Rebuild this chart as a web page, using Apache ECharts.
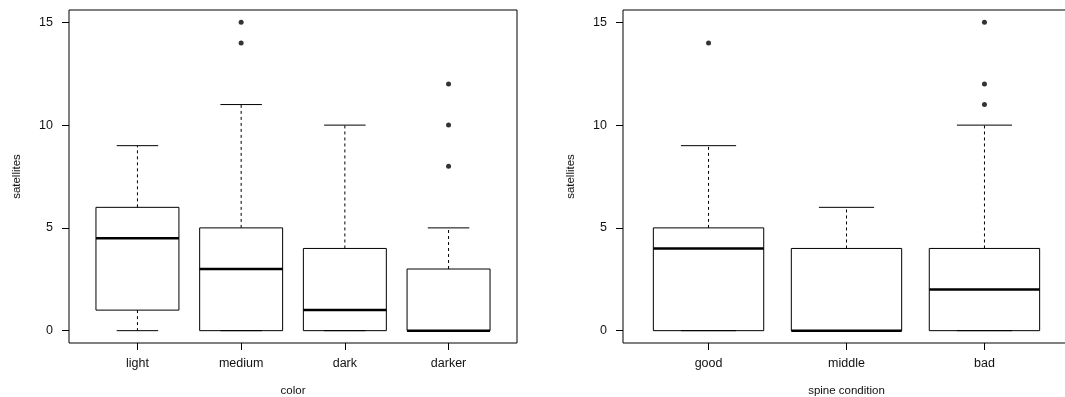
<!DOCTYPE html>
<html>
<head>
<meta charset="utf-8">
<script src="https://cdn.jsdelivr.net/npm/echarts@6/dist/echarts.min.js"></script>
<style>
html,body{margin:0;padding:0;background:#fff;}
#chart{width:1065px;height:397px;}
</style>
</head>
<body>
<div id="chart"></div>
<script>
// ---- data ----
const colorCategories = ['light', 'medium', 'dark', 'darker'];
// [min whisker, Q1, median, Q3, max whisker]
const colorStats = [
  [0, 1, 4.5, 6, 9],
  [0, 0, 3, 5, 11],
  [0, 0, 1, 4, 10],
  [0, 0, 0, 3, 5]
];
const colorOutliers = [[], [14, 15], [], [8, 10, 12]];

const spineCategories = ['good', 'middle', 'bad'];
const spineStats = [
  [0, 0, 4, 5, 9],
  [0, 0, 0, 4, 6],
  [0, 0, 2, 4, 10]
];
const spineOutliers = [[14], [], [11, 12, 15]];

const yTicks = [0, 5, 10, 15];
const yAxisTitle = 'satellites';
const colorTitle = 'color';
const spineTitle = 'spine condition';

// ---- helpers ----
const FONT = "'Liberation Sans', Arial, Helvetica, sans-serif";
const INK = '#111';

function boxData(stats) {
  return stats.map((s, i) => [i + 1].concat(s));
}
function outlierData(outs) {
  const d = [];
  outs.forEach((vals, i) => vals.forEach(v => d.push([i + 1, v])));
  return d;
}
function renderBox(params, api) {
  const x = api.value(0);
  const mn = api.value(1), q1 = api.value(2), md = api.value(3), q3 = api.value(4), mx = api.value(5);
  const w = api.size([0.8, 0])[0];
  const cw = api.size([0.4, 0])[0];
  const pMin = api.coord([x, mn]);
  const pQ1 = api.coord([x, q1]);
  const pMd = api.coord([x, md]);
  const pQ3 = api.coord([x, q3]);
  const pMax = api.coord([x, mx]);
  const cx = pMin[0];
  const dash = { stroke: '#000', lineWidth: 1, lineDash: [3, 3] };
  const solid = { stroke: '#000', lineWidth: 1 };
  return {
    type: 'group',
    children: [
      { type: 'rect', shape: { x: cx - w / 2, y: pQ3[1], width: w, height: pQ1[1] - pQ3[1] },
        style: { fill: '#fff', stroke: '#000', lineWidth: 1 } },
      { type: 'line', shape: { x1: cx - w / 2, y1: pMd[1], x2: cx + w / 2, y2: pMd[1] },
        style: { stroke: '#000', lineWidth: 2.5 } },
      { type: 'line', shape: { x1: cx, y1: pQ3[1], x2: cx, y2: pMax[1] }, style: dash },
      { type: 'line', shape: { x1: cx, y1: pQ1[1], x2: cx, y2: pMin[1] }, style: dash },
      { type: 'line', shape: { x1: cx - cw / 2, y1: pMax[1], x2: cx + cw / 2, y2: pMax[1] }, style: solid },
      { type: 'line', shape: { x1: cx - cw / 2, y1: pMin[1], x2: cx + cw / 2, y2: pMin[1] }, style: solid }
    ]
  };
}
function xAxisFor(gridIndex, cats, title) {
  const vals = cats.map((c, i) => i + 1);
  const pad = (cats.length) * 0.04;
  return {
    type: 'value', gridIndex: gridIndex,
    min: 0.5 - pad, max: cats.length + 0.5 + pad,
    name: title, nameLocation: 'middle', nameGap: 42,
    nameTextStyle: { fontFamily: FONT, fontSize: 11.5, color: INK },
    axisLine: { show: false, onZero: false },
    splitLine: { show: false },
    axisTick: { show: true, inside: false, length: 7, customValues: vals, lineStyle: { color: '#000', width: 1 } },
    axisLabel: { show: true, customValues: vals, margin: 14, fontFamily: FONT, fontSize: 12.5, color: INK,
      formatter: v => cats[Math.round(v) - 1] || '' }
  };
}
function yAxisFor(gridIndex) {
  return {
    type: 'value', gridIndex: gridIndex,
    min: -0.6, max: 15.6,
    name: yAxisTitle, nameLocation: 'middle', nameGap: 46, nameRotate: 90,
    nameTextStyle: { fontFamily: FONT, fontSize: 11.5, color: INK },
    axisLine: { show: false, onZero: false },
    splitLine: { show: false },
    axisTick: { show: true, inside: false, length: 7, customValues: yTicks, lineStyle: { color: '#000', width: 1 } },
    axisLabel: { show: true, customValues: yTicks, margin: 16, fontFamily: FONT, fontSize: 12.5, color: INK }
  };
}

const chart = echarts.init(document.getElementById('chart'), null, { renderer: 'canvas' });
chart.setOption({
  backgroundColor: '#fff',
  animation: false,
  grid: [
    { left: 69, top: 10, width: 448, height: 333, show: true, borderColor: '#000', borderWidth: 1,
      backgroundColor: 'transparent', outerBoundsMode: 'none', containLabel: false },
    { left: 623, top: 10, width: 447, height: 333, show: true, borderColor: '#000', borderWidth: 1,
      backgroundColor: 'transparent', outerBoundsMode: 'none', containLabel: false }
  ],
  xAxis: [xAxisFor(0, colorCategories, colorTitle), xAxisFor(1, spineCategories, spineTitle)],
  yAxis: [yAxisFor(0), yAxisFor(1)],
  series: [
    { type: 'custom', xAxisIndex: 0, yAxisIndex: 0, renderItem: renderBox,
      encode: { x: 0, y: [1, 2, 3, 4, 5] }, data: boxData(colorStats), silent: true },
    { type: 'scatter', xAxisIndex: 0, yAxisIndex: 0, symbol: 'circle', symbolSize: 5,
      itemStyle: { color: '#000' }, data: outlierData(colorOutliers), silent: true },
    { type: 'custom', xAxisIndex: 1, yAxisIndex: 1, renderItem: renderBox,
      encode: { x: 0, y: [1, 2, 3, 4, 5] }, data: boxData(spineStats), silent: true },
    { type: 'scatter', xAxisIndex: 1, yAxisIndex: 1, symbol: 'circle', symbolSize: 5,
      itemStyle: { color: '#000' }, data: outlierData(spineOutliers), silent: true }
  ]
});
</script>
</body>
</html>
